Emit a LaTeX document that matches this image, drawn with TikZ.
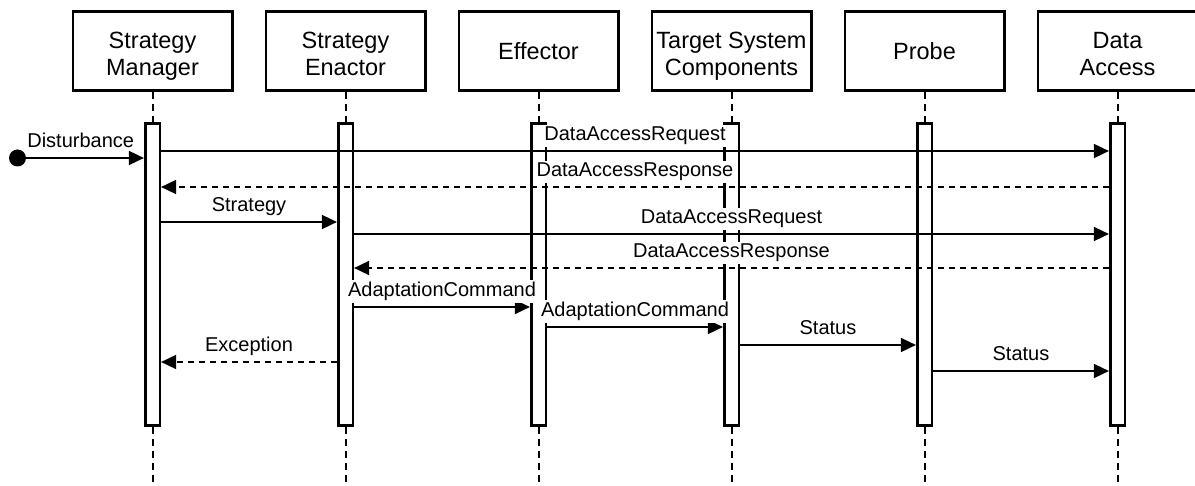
\documentclass[tikz,border=0pt]{standalone}
\usepackage{fontspec}
\setmainfont{Liberation Sans}
\usetikzlibrary{arrows.meta,calc}
\begin{document}
\begin{tikzpicture}[x=1pt,y=-1pt,
 head/.style={draw,line width=2.6pt,minimum width=159.4pt,minimum height=79.4pt,inner sep=0pt,align=center,text depth=0pt,font=\fontsize{23.5}{27.5}\selectfont},
 twoline/.style={text height=49.5pt},
 act/.style={draw,fill=white,line width=2.6pt,minimum width=14.6pt,minimum height=302.4pt,inner sep=0pt},
 life/.style={line width=2pt,dash pattern=on 7pt off 5pt},
 msg/.style={line width=1.7pt,-{Triangle[length=15pt,width=14pt]}},
 ret/.style={msg,dash pattern=on 6pt off 5pt},
 lbl/.style={fill=white,inner sep=2pt,anchor=base,yshift=10.5pt,font=\fontsize{20}{24}\selectfont}
]
\useasboundingbox (0,0) rectangle (1195,486);
% headers
\node[head,twoline] (hsm) at (152.5,51) {Strategy\\Manager};
\node[head,twoline] (hse) at (345.5,51) {Strategy\\Enactor};
\node[head] (hef) at (538.5,51) {Effector};
\node[head,twoline] (hts) at (731.5,51) {Target System\\Components};
\node[head] (hpr) at (924.5,51) {Probe};
\node[head,twoline] (hda) at (1117.5,51) {Data\\Access};
% activations
\node[act] (sm) at (152.5,274.5) {};
\node[act] (se) at (345.5,274.5) {};
\node[act] (ef) at (538.5,274.5) {};
\node[act] (ts) at (731.5,274.5) {};
\node[act] (pr) at (924.5,274.5) {};
\node[act] (da) at (1117.5,274.5) {};
% lifelines
\foreach \h/\a in {hsm/sm,hse/se,hef/ef,hts/ts,hpr/pr,hda/da}{
  \draw[life] (\h.south) -- (\a.north);
  \coordinate (\a end) at (\a.south |- 0,490);
  \draw[life] (\a.south) -- (\a end);
}
% start
\node[circle,fill,minimum size=17pt,inner sep=0pt] (dist) at (17.5,158) {};
\draw[msg] (dist.center) -- node[lbl]{Disturbance} (sm.west |- 0,158);
% messages
\draw[msg] (sm.east |- 0,151) -- node[lbl]{DataAccessRequest} (da.west |- 0,151);
\draw[ret] (da.west |- 0,187) -- node[lbl]{DataAccessResponse} (sm.east |- 0,187);
\draw[msg] (sm.east |- 0,222) -- node[lbl]{Strategy} (se.west |- 0,222);
\draw[msg] (se.east |- 0,234) -- node[lbl]{DataAccessRequest} (da.west |- 0,234);
\draw[ret] (da.west |- 0,268) -- node[lbl]{DataAccessResponse} (se.east |- 0,268);
\draw[msg] (se.east |- 0,307) -- node[lbl]{AdaptationCommand} (ef.west |- 0,307);
\draw[msg] (ef.east |- 0,327) -- node[lbl]{AdaptationCommand} (ts.west |- 0,327);
\draw[msg] (ts.east |- 0,345) -- node[lbl]{Status} (pr.west |- 0,345);
\draw[ret] (se.west |- 0,362) -- node[lbl]{Exception} (sm.east |- 0,362);
\draw[msg] (pr.east |- 0,371) -- node[lbl]{Status} (da.west |- 0,371);
\end{tikzpicture}
\end{document}
